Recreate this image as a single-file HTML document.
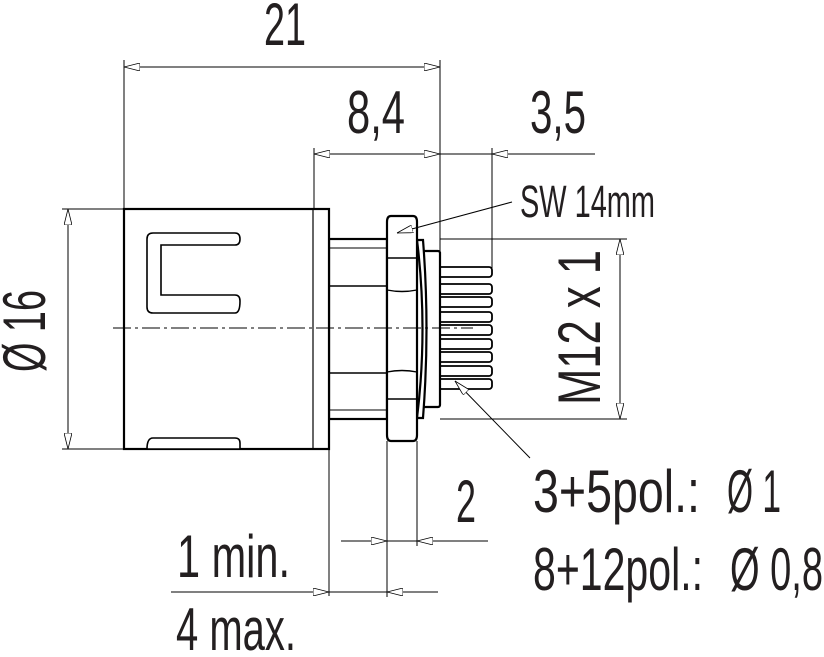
<!DOCTYPE html>
<html><head><meta charset="utf-8"><style>
html,body{margin:0;padding:0;background:#fff;}
svg{display:block;}
text{font-family:"Liberation Sans Narrow","Liberation Sans",sans-serif;fill:#231f20;}
</style></head><body>
<svg width="824" height="657" viewBox="0 0 824 657" xmlns="http://www.w3.org/2000/svg">
<defs>
<marker id="a" viewBox="0 0 16 8" refX="16" refY="4" markerWidth="16" markerHeight="8" orient="auto-start-reverse" markerUnits="userSpaceOnUse">
<path d="M0,0 L16,4 L0,8 Z" fill="#fff" stroke="#000" stroke-width="0.8"/>
</marker>
</defs>
<g stroke="#000" stroke-width="1" fill="none">
<line x1="124" y1="60" x2="124" y2="209"/>
<line x1="440" y1="60" x2="440" y2="251"/>
<line x1="314" y1="148" x2="314" y2="209"/>
<line x1="492" y1="148" x2="492" y2="268"/>
<line x1="62" y1="209" x2="124" y2="209"/>
<line x1="62" y1="449" x2="124" y2="449"/>
<line x1="440" y1="239" x2="627" y2="239"/>
<line x1="440" y1="419" x2="627" y2="419"/>
<line x1="329" y1="449" x2="329" y2="596"/>
<line x1="387" y1="441" x2="387" y2="597"/>
<line x1="417" y1="441" x2="417" y2="546"/>
<line x1="124" y1="67" x2="440" y2="67" marker-start="url(#a)" marker-end="url(#a)"/>
<line x1="314" y1="154" x2="440" y2="154" marker-start="url(#a)" marker-end="url(#a)"/>
<line x1="440" y1="154" x2="492" y2="154"/>
<line x1="595" y1="154" x2="492" y2="154" marker-end="url(#a)"/>
<line x1="68" y1="209" x2="68" y2="449" marker-start="url(#a)" marker-end="url(#a)"/>
<line x1="620" y1="239" x2="620" y2="419" marker-start="url(#a)" marker-end="url(#a)"/>
<line x1="341" y1="541" x2="387" y2="541" marker-end="url(#a)"/>
<line x1="387" y1="541" x2="417" y2="541"/>
<line x1="488" y1="541" x2="417" y2="541" marker-end="url(#a)"/>
<line x1="171" y1="592" x2="329" y2="592" marker-end="url(#a)"/>
<line x1="329" y1="592" x2="387" y2="592"/>
<line x1="438" y1="592" x2="387" y2="592" marker-end="url(#a)"/>
</g>
<g stroke="#000" stroke-width="2.2" fill="#fff">
<g stroke-width="1.8">
<rect x="436" y="267" width="56" height="10" rx="3"/>
<rect x="436" y="284" width="56" height="10" rx="3"/>
<rect x="436" y="297" width="56" height="10" rx="3"/>
<rect x="436" y="312" width="56" height="10" rx="3"/>
<rect x="436" y="325" width="56" height="10" rx="3"/>
<rect x="436" y="339" width="56" height="10" rx="3"/>
<rect x="436" y="352" width="56" height="10" rx="3"/>
<rect x="436" y="366" width="56" height="10" rx="3"/>
<rect x="436" y="379" width="56" height="10" rx="3"/>
</g>
<rect x="423" y="251" width="17" height="156" rx="2"/>
<path d="M417,240 Q428,329 417,418 L423,418 Q430,329 423,240 Z"/>
<rect x="329" y="239" width="58" height="180"/>
<line x1="329" y1="248" x2="387" y2="248" stroke-width="1"/>
<line x1="329" y1="286" x2="387" y2="286" stroke-width="1.6"/>
<line x1="329" y1="373" x2="387" y2="373" stroke-width="1.6"/>
<line x1="329" y1="410" x2="387" y2="410" stroke-width="1"/>
<path d="M391,216 L413,216 Q417,216 417,222 L417,435 Q417,441 413,441 L391,441 Q387,441 387,435 L387,222 Q387,216 391,216 Z"/>
<line x1="387" y1="258" x2="417" y2="258" stroke-width="1.4"/>
<path d="M387,290 Q402,293 417,290" fill="none" stroke-width="1.4"/>
<path d="M387,372 Q402,369 417,372" fill="none" stroke-width="1.4"/>
<line x1="387" y1="399" x2="417" y2="399" stroke-width="1.4"/>
<rect x="124" y="209" width="205" height="240"/>
<line x1="313" y1="209" x2="313" y2="449" stroke-width="1.2"/>
<path d="M153,233 L235,233 Q240,233 240,239 Q240,245 235,245 L161,245 L161,295 L235,295 Q240,295 240,301 Q240,313 235,313 L153,313 Q147,313 147,307 L147,239 Q147,233 153,233 Z" stroke-width="1.6"/>
<path d="M153,438 L235,438 Q240,438 240,443 L240,449 L147,449 Q147,438 153,438 Z" stroke-width="1.6"/>
</g>
<g stroke="#000" stroke-width="1" fill="none">
<line x1="113" y1="328" x2="473" y2="328" stroke-dasharray="18,4,3,4"/>
<line x1="512" y1="202" x2="397" y2="233" marker-end="url(#a)"/>
<line x1="530" y1="458" x2="455" y2="381" marker-end="url(#a)"/>
</g>
<text x="264" y="45" font-size="60" textLength="42" lengthAdjust="spacingAndGlyphs">21</text>
<text x="347" y="133" font-size="60" textLength="58" lengthAdjust="spacingAndGlyphs">8,4</text>
<text x="530" y="133" font-size="60" textLength="56" lengthAdjust="spacingAndGlyphs">3,5</text>
<text x="520" y="217" font-size="45" textLength="135" lengthAdjust="spacingAndGlyphs">SW 14mm</text>
<text x="456" y="522" font-size="60" textLength="20" lengthAdjust="spacingAndGlyphs">2</text>
<text x="533" y="512" font-size="60" textLength="167" lengthAdjust="spacingAndGlyphs">3+5pol.:</text>
<text x="727" y="512" font-size="60" textLength="54" lengthAdjust="spacingAndGlyphs">Ø 1</text>
<text x="533" y="590" font-size="60" textLength="170" lengthAdjust="spacingAndGlyphs">8+12pol.:</text>
<text x="730" y="590" font-size="60" textLength="93" lengthAdjust="spacingAndGlyphs">Ø 0,8</text>
<text x="177" y="577" font-size="60" textLength="113" lengthAdjust="spacingAndGlyphs">1 min.</text>
<text x="176" y="650" font-size="60" textLength="120" lengthAdjust="spacingAndGlyphs">4 max.</text>
<text transform="translate(45,372) rotate(-90)" font-size="60" textLength="82" lengthAdjust="spacingAndGlyphs">Ø 16</text>
<text transform="translate(600,405) rotate(-90)" font-size="60" textLength="155" lengthAdjust="spacingAndGlyphs">M12 x 1</text>
</svg>
</body></html>
